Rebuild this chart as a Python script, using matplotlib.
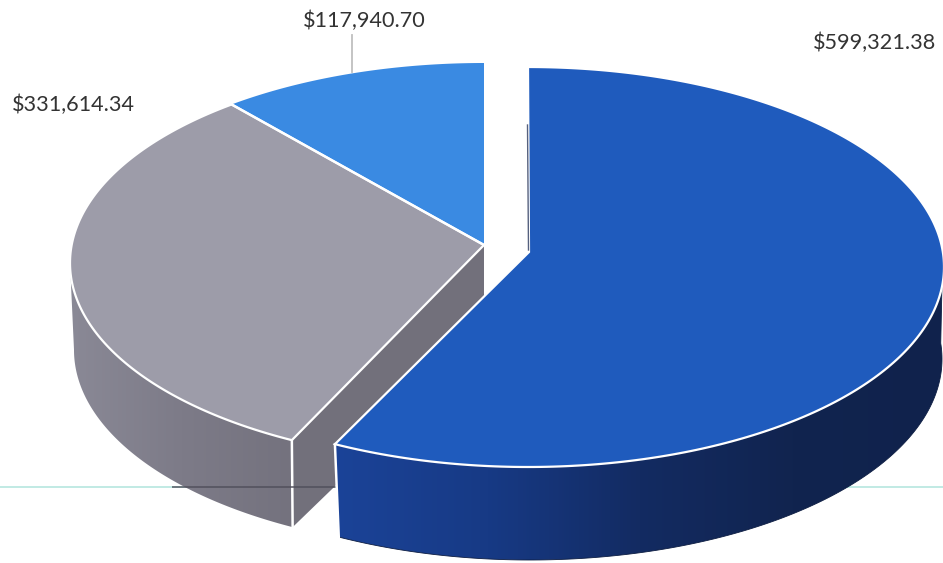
import numpy as np
import matplotlib
matplotlib.use("Agg")
import matplotlib.pyplot as plt
from matplotlib.patches import Polygon
from matplotlib.colors import LinearSegmentedColormap

# ---- data ----
slice_names = ["blue", "gray", "light blue"]
slice_values = [599321.38, 331614.34, 117940.70]

# ---- style / geometry ----
W, H = 943, 563
plt.rcParams["font.family"] = ["Lato", "DejaVu Sans"]
TOP = {"blue": "#1f5bbd", "gray": "#9d9ca9", "light blue": "#3a8ae2"}
RIM = {"blue": dict(cx=528, cy=267, rx=416, ry=200, ax=529, ay=252),
       "rest": dict(cx=484, cy=263, rx=414, ry=200, ax=484, ay=245)}
LOW = {"blue": dict(cx=530, cy=359, rx=412, ry=201),
       "rest": dict(cx=482, cy=350, rx=408, ry=200)}

fig = plt.figure(figsize=(W / 100, H / 100), dpi=100, facecolor="white")
ax = fig.add_axes([0, 0, 1, 1])


def warp(t):
    return t - 4.5 * np.sin(np.radians(t))


def ell(g, t):
    r = np.radians(warp(np.asarray(t, dtype=float)))
    return np.column_stack([g["cx"] + g["rx"] * np.sin(r), g["cy"] - g["ry"] * np.cos(r)])


def gradient(poly_pts, colors, z):
    poly = Polygon(poly_pts, closed=True, fc="none", ec="none", transform=ax.transData)
    ax.add_patch(poly)
    x0, y0 = poly_pts.min(axis=0)
    x1, y1 = poly_pts.max(axis=0)
    cmap = LinearSegmentedColormap.from_list("g", colors)
    arr = np.linspace(0, 1, 256).reshape(1, -1)
    im = ax.imshow(arr, extent=[x0, x1, y1, y0], cmap=cmap, aspect="auto", zorder=z,
                   interpolation="bilinear")
    im.set_clip_path(poly)


total = sum(slice_values)
ends = np.cumsum(slice_values) / total * 360
t_blue = ends[0]
t_gray = ends[1]

# teal rule behind the pie
ax.plot([0, W], [487, 487], color="#bce8e2", lw=1.3, zorder=1, solid_capstyle="butt")

# gray cut face (partly hidden by blue)
g_corner_top = ell(RIM["rest"], [t_blue])[0]
g_corner_low = ell(LOW["rest"], [t_blue])[0]
face = Polygon([(484, 245), (484, 342), g_corner_low, g_corner_top], closed=True,
               fc="#72707b", ec="none", zorder=2)
ax.add_patch(face)

# gray outer wall
ts = np.linspace(t_blue, 265.6, 120)
wall = np.vstack([ell(RIM["rest"], ts), ell(LOW["rest"], ts[::-1])])
gradient(wall, ["#8a8996", "#7d7b88", "#74727e"], 2.5)

# gray corner edge
ax.plot([g_corner_top[0], g_corner_low[0]], [g_corner_top[1], g_corner_low[1]],
        color="white", lw=1.8, zorder=3)

# dark part of the rule seen through the gray body
ax.plot([172, 340], [487, 487], color="#4f4e5a", lw=1.3, alpha=0.8, zorder=3.2,
        solid_capstyle="butt")

# gray and light blue tops
apex = (RIM["rest"]["ax"], RIM["rest"]["ay"])
ts = np.linspace(t_blue, t_gray, 150)
ax.add_patch(Polygon(np.vstack([[apex], ell(RIM["rest"], ts)]), closed=True,
                     fc=TOP["gray"], ec="white", lw=1.6, joinstyle="round", zorder=4))
ts = np.linspace(t_gray, 360, 80)
ax.add_patch(Polygon(np.vstack([[apex], ell(RIM["rest"], ts)]), closed=True,
                     fc=TOP["light blue"], ec="none", zorder=3.8))
ax.plot(*np.array([apex, ell(RIM["rest"], [t_gray])[0]]).T, color="white", lw=1.8, zorder=5)

# blue outer wall
ts = np.linspace(90, t_blue, 160)
low_ts = np.linspace(t_blue, 90, 160)
bwall = np.vstack([ell(RIM["blue"], ts), ell(LOW["blue"], low_ts)])
gradient(bwall, ["#1b4398", "#173a85", "#132b62", "#11244f", "#10224c"], 6)
ax.add_patch(Polygon(bwall, closed=True, fc="none", ec="#0d1d42", lw=0.6, zorder=6.1))
ax.plot(*np.array([bwall[159], bwall[160]]).T, color="white", lw=1.8, zorder=6.3)

# blue top
apex_b = (RIM["blue"]["ax"], RIM["blue"]["ay"])
ts = np.linspace(0, t_blue, 250)
btop = np.vstack([[apex_b], ell(RIM["blue"], ts)])
ax.add_patch(Polygon(btop, closed=True, fc=TOP["blue"], ec="white", lw=1.6, zorder=7))
ax.plot([527.5, 528.5], [125, 250], color="#56617e", lw=1.0, zorder=8)

# leader line and labels
ax.plot([352, 352], [35, 72], color="#bfbfbf", lw=1.3, zorder=0.5)
labels = [f"${v:,.2f}" for v in slice_values]
positions = [(874.5, 43), (73, 105), (364, 21)]
for lab, (x, y) in zip(labels, positions):
    ax.text(x, y, lab, ha="center", va="center", fontsize=15.6, color="#333333", zorder=9)

ax.set_xlim(0, W)
ax.set_ylim(H, 0)
ax.axis("off")
fig.savefig("out.png", dpi=100, facecolor="white")
